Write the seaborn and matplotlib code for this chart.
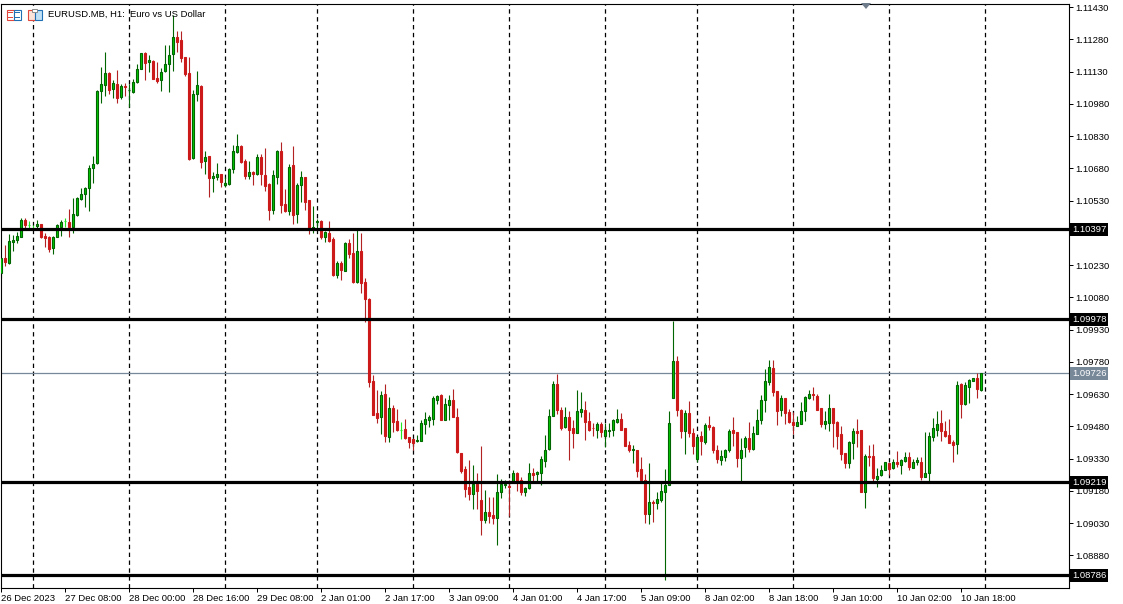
import matplotlib
matplotlib.use('Agg')
import matplotlib.pyplot as plt
from matplotlib.patches import Rectangle, Polygon
import pandas as pd
import seaborn as sns

# H1 candles, prices in points (1e-5)
open_pts = [
    110191,110261,110238,110339,110348,110362,110442,110416,110402,110413,
    110419,110365,110360,110311,110362,110407,110435,110430,110408,110464,
    110539,110559,110587,110683,110703,111041,111069,111123,111047,111071,
    111013,111063,111043,111033,111080,111143,111215,111176,111178,111099,
    111089,111131,111164,111210,111289,111275,111196,111122,110728,111024,
    111063,110715,110736,110636,110641,110653,110601,110605,110675,110756,
    110784,110714,110646,110661,110656,110731,110647,110607,110487,110641,
    110760,110514,110483,110695,110469,110604,110639,110535,110399,110432,
    110433,110362,110379,110351,110185,110242,110204,110331,110284,110151,
    110295,110149,110072,109693,109540,109524,109630,109431,109563,109503,
    109462,109467,109430,109419,109410,109413,109492,109511,109515,109603,
    109625,109510,109580,109600,109521,109358,109279,109197,109166,109211,
    109137,109043,109079,109067,109053,109174,109208,109201,109220,109261,
    109228,109175,109195,109262,109259,109264,109320,109375,109530,109679,
    109555,109478,109523,109471,109450,109547,109554,109503,109472,109465,
    109490,109437,109459,109461,109502,109516,109471,109392,109369,109372,
    109279,109228,109073,109130,109124,109137,109175,109209,109613,109782,
    109558,109459,109540,109451,109326,109433,109408,109484,109476,109372,
    109323,109338,109371,109461,109453,109334,109382,109425,109375,109445,
    109507,109603,109687,109751,109642,109557,109610,109546,109499,109482,
    109492,109549,109613,109628,109623,109563,109492,109496,109563,109499,
    109442,109355,109310,109403,109456,109465,109175,109344,109340,109236,
    109254,109276,109309,109285,109316,109301,109318,109335,109287,109316,
    109316,109245,109261,109431,109462,109493,109458,109439,109405,109399,
    109675,109583,109664,109692,109703,109650,
]
high_pts = [
    110264,110323,110373,110370,110385,110447,110447,110436,110415,110439,
    110419,110380,110365,110365,110421,110439,110447,110491,110542,110548,
    110590,110594,110695,110737,111044,111153,111221,111128,111091,111137,
    111072,111075,111072,111094,111165,111215,111223,111207,111184,111175,
    111145,111254,111254,111393,111319,111319,111199,111199,111044,111133,
    111066,110760,110736,110664,110705,110656,110641,110680,110787,110839,
    110787,110722,110714,110666,110746,110746,110776,110610,110672,110765,
    110801,110584,110700,110784,110612,110667,110639,110535,110504,110444,
    110442,110388,110435,110360,110249,110249,110337,110351,110379,110393,
    110379,110169,110075,109718,109648,109644,109679,109617,109579,109560,
    109499,109513,109430,109423,109439,109509,109548,109532,109620,109625,
    109628,109610,109625,109653,109563,109358,109296,109323,109299,109265,
    109388,109183,109149,109151,109257,109234,109230,109230,109276,109267,
    109242,109198,109307,109287,109271,109341,109439,109562,109690,109723,
    109571,109568,109552,109509,109651,109639,109597,109548,109493,109498,
    109499,109493,109493,109513,109560,109540,109474,109411,109392,109372,
    109337,109257,109309,109137,109174,109214,109281,109549,109969,109807,
    109560,109558,109596,109472,109434,109459,109493,109530,109481,109392,
    109372,109374,109467,109523,109453,109425,109434,109499,109481,109560,
    109625,109746,109788,109788,109642,109625,109611,109560,109546,109527,
    109592,109620,109648,109661,109628,109563,109551,109630,109565,109503,
    109481,109358,109410,109470,109513,109465,109351,109392,109397,109285,
    109299,109313,109309,109327,109364,109326,109360,109360,109326,109338,
    109337,109453,109453,109518,109551,109555,109506,109516,109416,109690,
    109683,109687,109700,109707,109726,109726,
]
low_pts = [
    110171,110225,110235,110297,110331,110362,110402,110402,110393,110393,
    110354,110315,110290,110281,110359,110365,110408,110362,110377,110458,
    110532,110498,110483,110613,110700,110985,111016,111026,111009,110985,
    111001,111016,110967,111032,111075,111140,111091,111130,111094,111075,
    111041,111130,111036,111134,111223,111176,111109,110718,110722,110995,
    110683,110656,110548,110571,110625,110594,110591,110602,110660,110750,
    110706,110630,110630,110604,110650,110602,110576,110439,110467,110607,
    110473,110477,110463,110421,110425,110523,110486,110374,110380,110393,
    110351,110337,110337,110179,110171,110160,110202,110263,110148,110146,
    110100,109966,109662,109532,109493,109444,109408,109408,109454,109456,
    109420,109419,109378,109372,109408,109410,109444,109478,109485,109586,
    109509,109509,109509,109521,109357,109261,109152,109137,109095,109096,
    108974,109028,109028,109025,108927,109147,109191,109064,109214,109177,
    109160,109155,109189,109216,109217,109208,109289,109372,109527,109535,
    109462,109471,109323,109378,109450,109524,109416,109459,109434,109427,
    109428,109382,109431,109437,109496,109464,109388,109361,109310,109245,
    109225,109031,109026,109036,109096,109127,108767,109206,109610,109527,
    109425,109351,109428,109351,109316,109346,109397,109465,109355,109309,
    109301,109318,109360,109388,109290,109222,109337,109360,109369,109444,
    109490,109548,109672,109620,109485,109527,109490,109496,109444,109481,
    109490,109503,109605,109602,109555,109475,109468,109456,109385,109375,
    109323,109287,109287,109329,109385,109174,109101,109295,109227,109198,
    109248,109275,109253,109282,109292,109257,109313,109276,109284,109299,
    109230,109242,109222,109411,109437,109413,109430,109400,109313,109351,
    109518,109579,109589,109689,109611,109645,
]
close_pts = [
    110261,110244,110340,110349,110363,110442,110418,110416,110402,110421,
    110360,110357,110304,110360,110415,110430,110435,110407,110466,110540,
    110559,110587,110680,110698,111038,111071,111122,111046,111075,111009,
    111061,111057,111045,111080,111140,111215,111171,111182,111097,111086,
    111128,111164,111206,111289,111269,111195,111120,110725,111024,111066,
    110711,110731,110636,110644,110652,110618,110610,110675,110759,110782,
    110709,110646,110661,110655,110731,110653,110599,110487,110647,110760,
    110511,110483,110686,110464,110602,110638,110525,110401,110405,110434,
    110362,110382,110343,110183,110242,110208,110331,110283,110151,110294,
    110148,110073,109687,109532,109517,109625,109434,109563,109499,109462,
    109462,109427,109408,109403,109416,109493,109512,109521,109611,109623,
    109510,109586,109602,109523,109360,109271,109189,109166,109211,109178,
    109043,109079,109062,109054,109174,109211,109211,109199,109261,109226,
    109174,109192,109262,109254,109267,109326,109372,109530,109676,109555,
    109473,109521,109464,109450,109549,109560,109499,109462,109470,109490,
    109454,109462,109461,109507,109512,109465,109388,109369,109374,109273,
    109231,109073,109126,109124,109140,109177,109209,109493,109782,109558,
    109459,109540,109450,109389,109428,109411,109484,109476,109371,109329,
    109340,109372,109456,109450,109334,109368,109425,109374,109447,109507,
    109600,109689,109754,109641,109552,109610,109543,109499,109487,109498,
    109549,109614,109628,109626,109557,109492,109503,109563,109493,109436,
    109352,109310,109405,109456,109450,109175,109344,109338,109239,109251,
    109275,109312,109281,109316,109304,109323,109335,109290,109316,109321,
    109244,109261,109433,109470,109489,109458,109433,109403,109392,109670,
    109583,109672,109695,109703,109655,109726,
]

# bar index of each tick label on the time axis
time_ticks = list(range(0, 256, 16))
time_labels = ['26 Dec 2023', '27 Dec 08:00', '28 Dec 00:00', '28 Dec 16:00',
               '29 Dec 08:00', '2 Jan 01:00', '2 Jan 17:00', '3 Jan 09:00',
               '4 Jan 01:00', '4 Jan 17:00', '5 Jan 09:00', '8 Jan 02:00',
               '8 Jan 18:00', '9 Jan 10:00', '10 Jan 02:00', '10 Jan 18:00']
# day separators
separator_bars = [8, 32, 56, 79, 103, 127, 151, 174, 198, 222, 246]

# 1.10380 sits under the 1.10397 price box, so its label stays empty
price_ticks = [1.11430, 1.11280, 1.11130, 1.10980, 1.10830, 1.10680, 1.10530,
               1.10380, 1.10230, 1.10080, 1.09930, 1.09780, 1.09630, 1.09480,
               1.09330, 1.09180, 1.09030, 1.08880]
price_labels = ['1.11430', '1.11280', '1.11130', '1.10980', '1.10830', '1.10680', '1.10530',
                '', '1.10230', '1.10080', '1.09930', '1.09780', '1.09630', '1.09480',
                '1.09330', '1.09180', '1.09030', '1.08880']
levels = [1.10397, 1.09978, 1.09219, 1.08786]
last_price = 1.09726

W, H = 1123, 604
GREEN_EDGE = '#006400'
GREEN_FILL = '#00C800'
RED = '#CC1A1A'
RED_WICK = '#B22222'
LIME = '#22E622'
GREY = '#778899'

sns.set_theme(style='ticks', rc={
    'axes.edgecolor': 'black', 'axes.linewidth': 0.8,
    'xtick.color': 'black', 'ytick.color': 'black',
    'xtick.major.size': 3, 'ytick.major.size': 3,
    'xtick.major.width': 0.72, 'ytick.major.width': 0.72,
})
plt.rcParams['font.family'] = ['Liberation Sans', 'DejaVu Sans']

df = pd.DataFrame({'open': open_pts, 'high': high_pts, 'low': low_pts, 'close': close_pts}) / 1e5
df['bar'] = range(len(df))
df['kind'] = 'up'
df.loc[df['close'] < df['open'], 'kind'] = 'down'
df.loc[df['close'] == df['open'], 'kind'] = 'doji'

fig = plt.figure(figsize=(W / 100, H / 100), dpi=100)
ax = fig.add_axes([0.6 / W, 1 - 587.5 / H, 1068 / W, 584 / H])

for b in separator_bars:
    ax.axvline(b, color='black', lw=0.9, ls=(0, (3.5, 2.8)), zorder=1)
ax.axhline(last_price, color=GREY, lw=0.9, zorder=1.5)

# wicks as one long-form table, one line per bar
wicks = df.melt(id_vars=['bar', 'kind'], value_vars=['high', 'low'], value_name='price')
sns.lineplot(data=wicks, x='bar', y='price', units='bar', estimator=None, hue='kind',
             palette={'up': GREEN_EDGE, 'down': RED_WICK, 'doji': LIME}, legend=False,
             lw=0.8, solid_capstyle='butt', ax=ax, zorder=2)

for kind, face, edge in [('up', GREEN_FILL, GREEN_EDGE), ('down', RED, RED), ('doji', LIME, LIME)]:
    d = df[df['kind'] == kind]
    ax.bar(d['bar'], d['close'] - d['open'], bottom=d['open'], width=0.55,
           color=face, edgecolor=edge, linewidth=0.8, zorder=3)

for lv in levels:
    ax.axhline(lv, color='black', lw=2.3, zorder=4)

ax.set_xlim(0, 267)
ax.set_ylim(1.08730, 1.11447)
ax.set_xlabel('')
ax.set_ylabel('')
ax.yaxis.tick_right()
ax.set_yticks(price_ticks, price_labels)
ax.set_xticks(time_ticks, time_labels, ha='left')
ax.tick_params(axis='y', labelsize=6.8, pad=1.5)
ax.tick_params(axis='x', labelsize=6.8, pad=1.5)


def price_box(price, face):
    ax.text(1.0030, price, f'{price:.5f}', transform=ax.get_yaxis_transform(), color='white',
            fontsize=6.8, va='center', ha='left', clip_on=False, zorder=6,
            bbox=dict(boxstyle='square,pad=0.22', fc=face, ec='none'))


for lv in levels:
    price_box(lv, 'black')
price_box(last_price, GREY)

# header
fig.text(47.5 / W, 1 - 14.5 / H, 'EURUSD.MB, H1:  Euro vs US Dollar', fontsize=6.8, va='center', color='black')


def px_rect(x, y, w, h, **kw):
    fig.add_artist(Rectangle((x / W, 1 - (y + h) / H), w / W, h / H, transform=fig.transFigure, **kw))


RED_ICON, BLUE_ICON = '#E0463C', '#1F6FB5'
px_rect(6.5, 9.5, 7, 10, fc='white', ec=RED_ICON, lw=0.8)
px_rect(13.5, 9.5, 7, 10, fc='white', ec=BLUE_ICON, lw=0.8)
for yy in (12, 14.5, 17):
    px_rect(8, yy, 4.5, 0.8, fc=RED_ICON, ec='none')
    px_rect(15, yy, 4.5, 0.8, fc=BLUE_ICON, ec='none')
px_rect(27.5, 9.5, 7, 10, fc='#FBE3DA', ec=RED_ICON, lw=0.8)
px_rect(34.5, 9.5, 7, 10, fc='#BFE0F5', ec=BLUE_ICON, lw=0.8)
px_rect(32, 8.5, 5, 3, fc='white', ec='#8A8A8A', lw=0.7)

# small marker on the top edge
fig.add_artist(Polygon([(861 / W, 1 - 3 / H), (871 / W, 1 - 3 / H), (866 / W, 1 - 9 / H)],
                       transform=fig.transFigure, fc='#6E7B8B', ec='none', zorder=10))

fig.savefig('out.png', dpi=100, facecolor='white')
